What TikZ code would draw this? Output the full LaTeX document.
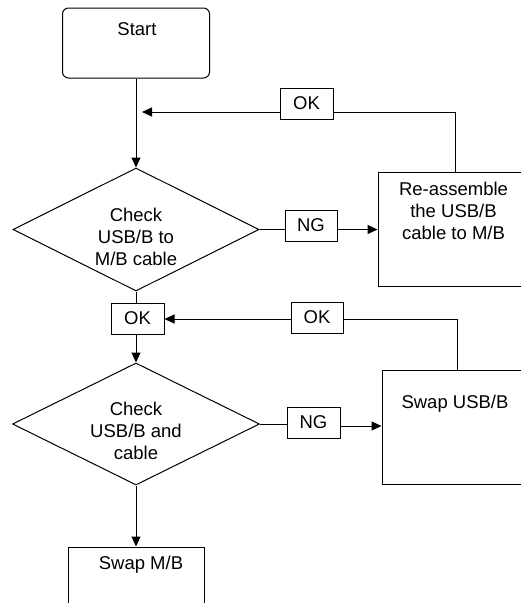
\documentclass[tikz,border=0pt]{standalone}
\usepackage{fontspec}
\setmainfont{Liberation Sans}
\usetikzlibrary{shapes.geometric,arrows.meta}
\begin{document}
\begin{tikzpicture}[x=1pt,y=-1pt,
  every node/.style={font=\fontsize{18.5}{22}\selectfont, inner sep=0pt},
  box/.style={draw, line width=1pt},
  tag/.style={draw, line width=1pt, minimum width=53pt, minimum height=31pt},
  dia/.style={draw, diamond, line width=1pt, aspect=2},
  conn/.style={line width=1pt},
  arr/.style={line width=1pt, -{Triangle[length=10pt,width=9pt]}},
  txt/.style={align=center}]
\useasboundingbox (0,0) rectangle (521,603);
\clip (0,0) rectangle (521,603);
% boxes
\node[box, rounded corners=6pt, minimum width=147pt, minimum height=70pt] (start) at (136,43) {};
\node[txt] (startT) at (137,29) {Start};
\node[dia, minimum width=246pt, minimum height=123pt] (d1) at (136,229.5) {};
\node[txt] (d1T) at (136,237) {Check\\USB/B to\\M/B cable};
\node[box, minimum width=150pt, minimum height=114pt] (re) at (453,229) {};
\node[txt] (reT) at (453.5,211) {Re-assemble\\the USB/B\\cable to M/B};
\node[tag] (ok1) at (306.5,103.5) {OK};
\node[tag, minimum width=52pt] (ng1) at (311,225.5) {NG};
\node[tag] (ok3) at (137.5,318.5) {OK};
\node[tag, minimum width=52pt] (ok2) at (317,317.5) {OK};
\node[dia, minimum width=247pt, minimum height=122pt] (d2) at (136,424) {};
\node[txt] (d2T) at (136,431) {Check\\USB/B and\\cable};
\node[tag] (ng2) at (313.5,422.5) {NG};
\node[box, minimum width=148pt, minimum height=114pt] (usb) at (456,427) {};
\node[txt] (usbT) at (455,404) {Swap USB/B};
\node[box, minimum width=136pt, minimum height=73pt] (mb) at (136,583.5) {};
\node[txt] (mbT) at (141,565) {Swap M/B};
\coordinate (j1) at (142,112);
% connectors
\draw[arr] (start.south) -- (d1.north);
\draw[conn] ([xshift=2pt]re.north) |- (ok1.east |- 0,112);
\draw[arr] (ok1.west |- 0,112) -- (j1);
\draw[conn] (d1.east) -- (ng1.west |- d1.east);
\draw[arr] (ng1.east |- d1.east) -- (re.west |- d1.east);
\draw[conn] (d1.south) -- (d1.south |- ok3.north);
\draw[arr] (d2.north |- ok3.south) -- (d2.north);
\draw[conn] ([xshift=1pt]usb.north) |- (ok2.east |- 0,319);
\draw[arr] (ok2.west |- 0,319) -- (ok3.east |- 0,319);
\draw[conn] (d2.east) -- (ng2.west |- d2.east);
\draw[arr] (ng2.east |- 0,426) -- (usb.west |- 0,426);
\draw[arr] (d2.south) -- (mb.north);
\end{tikzpicture}
\end{document}
